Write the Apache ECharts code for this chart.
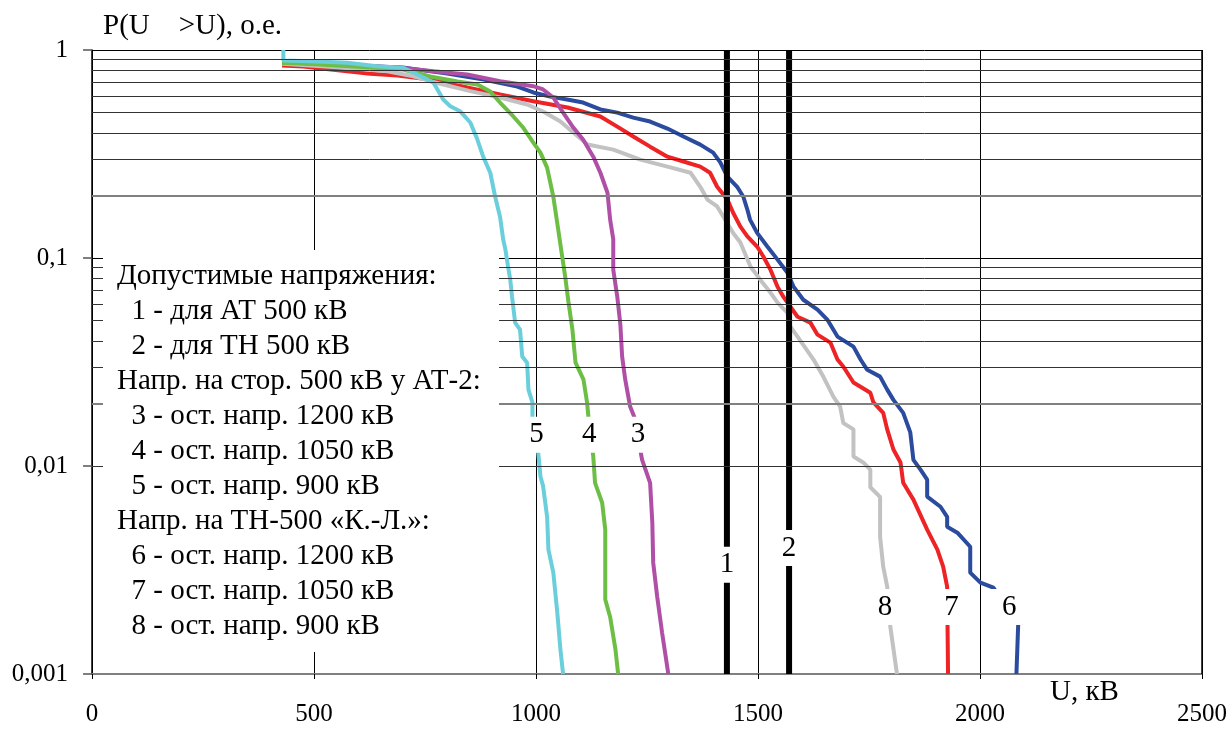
<!DOCTYPE html>
<html><head><meta charset="utf-8">
<script src="https://cdn.jsdelivr.net/npm/echarts/dist/echarts.min.js"></script>
<style>html,body{margin:0;padding:0;background:#fff}#c{width:1231px;height:729px}</style>
</head><body><div id="c"></div>
<script>
const FONT = 'Liberation Serif';
// axis ticks
const xMin = 0, xMax = 2500, xStep = 500;
const yMin = 0.001, yMax = 1;
const yTickLabel = {'1':'1','0.1':'0,1','0.01':'0,01','0.001':'0,001'};
const minorGridDark = [0.9,0.8,0.7,0.6,0.5,0.4,0.3,0.09,0.08,0.07,0.06,0.05,0.04,0.03,0.009,0.008,0.007,0.006,0.005,0.004,0.003];
const minorGridGray = [0.2,0.02,0.002];
// permissible voltages (lines 1,2)
const limitU = [1430, 1570];
// curve 3 (purple)
const c3U = [428,559,695,769,845,919,994,1016,1039,1061,1084,1106,1129,1145,1161,1167,1174,1174,1183,1190,1194,1201,1212,1221,1239,1257,1262,1264,1273,1284,1298];
const c3P = [0.871,0.851,0.821,0.791,0.762,0.708,0.67,0.646,0.591,0.5,0.424,0.371,0.307,0.257,0.206,0.153,0.123,0.0879,0.0653,0.0479,0.0336,0.026,0.0193,0.0173,0.0107,0.0083,0.00533,0.00343,0.00235,0.00158,0.001];
// curve 4 (green)
const c4U = [428,476,589,701,762,823,868,897,919,949,971,994,1010,1025,1039,1050,1059,1066,1073,1082,1089,1107,1115,1118,1129,1133,1149,1156,1156,1167,1179,1185];
const c4P = [0.866,0.861,0.833,0.806,0.746,0.705,0.683,0.631,0.559,0.479,0.424,0.359,0.321,0.272,0.197,0.137,0.1016,0.0805,0.0617,0.0453,0.0314,0.026,0.0202,0.0173,0.0111,0.0083,0.00666,0.00494,0.00228,0.00188,0.00131,0.001];
// curve 5 (cyan)
const c5U = [431,431,492,575,642,701,733,769,791,807,829,852,868,881,897,908,919,926,931,937,942,946,953,964,969,980,983,992,992,1005,1010,1016,1025,1028,1039,1048,1055,1061];
const c5P = [1,0.89,0.883,0.868,0.836,0.821,0.762,0.698,0.578,0.537,0.508,0.448,0.371,0.307,0.257,0.197,0.158,0.123,0.11,0.091,0.0787,0.0653,0.0489,0.0453,0.0336,0.0314,0.0233,0.0202,0.0173,0.0116,0.0089,0.008,0.0057,0.00396,0.00307,0.00197,0.00131,0.001];
// curve 6 (blue)
const c6U = [428,700,800,882,958,994,1032,1070,1106,1145,1183,1219,1257,1296,1332,1370,1399,1415,1431,1453,1467,1476,1482,1498,1521,1544,1566,1580,1602,1634,1656,1679,1715,1731,1746,1775,1791,1805,1827,1843,1850,1866,1881,1881,1911,1926,1926,1949,1978,1978,2001,2030,2086,2084,2082];
const c6P = [0.866,0.824,0.77,0.721,0.667,0.625,0.597,0.578,0.559,0.518,0.5,0.473,0.453,0.419,0.384,0.351,0.321,0.288,0.246,0.22,0.197,0.171,0.153,0.132,0.1135,0.0982,0.0851,0.0728,0.063,0.0565,0.0506,0.0419,0.0375,0.0325,0.029,0.0269,0.0233,0.0208,0.018,0.0145,0.0107,0.0096,0.0086,0.00713,0.00637,0.0057,0.0051,0.00478,0.00409,0.00307,0.00275,0.0026,0.00173,0.00131,0.001];
// curve 7 (red)
const c7U = [428,476,559,627,688,762,845,919,994,1071,1145,1183,1219,1257,1296,1332,1370,1392,1408,1431,1444,1460,1476,1498,1512,1528,1544,1557,1573,1589,1618,1634,1663,1679,1692,1715,1753,1760,1782,1791,1805,1821,1827,1850,1881,1904,1917,1926,1928];
const c7P = [0.842,0.833,0.797,0.768,0.754,0.721,0.66,0.611,0.567,0.529,0.479,0.428,0.384,0.343,0.307,0.291,0.275,0.257,0.22,0.191,0.165,0.142,0.127,0.1135,0.1016,0.0879,0.0728,0.0652,0.0583,0.0522,0.0489,0.0428,0.0392,0.0325,0.0301,0.0252,0.0225,0.0202,0.018,0.015,0.012,0.0104,0.0083,0.00689,0.00494,0.00396,0.00328,0.00263,0.001];
// curve 8 (gray)
const c8U = [428,552,665,724,762,791,852,919,980,1016,1055,1084,1116,1174,1235,1296,1348,1370,1386,1408,1422,1444,1460,1483,1505,1528,1544,1566,1573,1589,1625,1647,1670,1685,1692,1715,1715,1737,1753,1753,1775,1775,1782,1791,1798,1813];
const c8P = [0.859,0.826,0.791,0.748,0.708,0.683,0.634,0.591,0.547,0.506,0.453,0.401,0.351,0.332,0.297,0.275,0.257,0.22,0.191,0.177,0.158,0.132,0.119,0.091,0.0787,0.0682,0.061,0.0546,0.0468,0.0419,0.0325,0.0269,0.0215,0.0193,0.0161,0.015,0.0111,0.0104,0.0096,0.0079,0.0071,0.00457,0.00328,0.00263,0.00169,0.001];
// curve number labels
const labelNames = ['1','2','3','4','5','6','7','8'];
const labelU = [1430,1570,1230,1120,1001,2066,1936,1786];
const labelP = [0.00335,0.00403,0.01415,0.01415,0.01415,0.0021,0.0021,0.0021];
// legend text
const legendLines = [
  'Допустимые напряжения:',
  '  1 - для АТ 500 кВ',
  '  2 - для ТН 500 кВ',
  'Напр. на стор. 500 кВ у АТ-2:',
  '  3 - ост. напр. 1200 кВ',
  '  4 - ост. напр. 1050 кВ',
  '  5 - ост. напр. 900 кВ',
  'Напр. на ТН-500 «К.-Л.»:',
  '  6 - ост. напр. 1200 кВ',
  '  7 - ост. напр. 1050 кВ',
  '  8 - ост. напр. 900 кВ'
];
const yTitle = 'P(U    >U), о.е.';
const xTitle = 'U, кВ';

const zip = (u, p) => u.map((v, i) => [v, p[i]]);
const curve = (name, u, p, color, z) => ({
  type: 'line', name, data: zip(u, p), showSymbol: false, symbol: 'none',
  lineStyle: { color, width: 4 }, z, silent: true
});
const gridLines = [].concat(
  minorGridDark.map(v => ({ yAxis: v, lineStyle: { color: '#333', width: 1, type: 'solid' } })),
  minorGridGray.map(v => ({ yAxis: v, lineStyle: { color: '#808080', width: 2, type: 'solid' } }))
);

const TXT = 29;
const chart = echarts.init(document.getElementById('c'), null, { renderer: 'canvas' });
const graphic = [
  { type: 'rect', shape: { x: 103, y: 250, width: 396, height: 402 }, style: { fill: '#fff' }, z: 100 },
  { type: 'text', x: 103, y: 26, z: 101, style: { text: yTitle, fontSize: TXT, fontFamily: FONT, fill: '#000', verticalAlign: 'middle' } },
  { type: 'text', x: 1050, y: 692, z: 101, style: { text: xTitle, fontSize: TXT, fontFamily: FONT, fill: '#000', verticalAlign: 'middle' } }
];
legendLines.forEach((t, i) => {
  graphic.push({ type: 'text', x: 117, y: 276 + i * 35, z: 101,
    style: { text: t, fontSize: TXT, fontFamily: FONT, fill: '#000', verticalAlign: 'middle' } });
});

chart.setOption({
  animation: false,
  textStyle: { fontFamily: FONT },
  grid: { left: 92, right: 29, top: 50, bottom: 55, containLabel: false },
  xAxis: {
    type: 'value', min: xMin, max: xMax, interval: xStep,
    axisLine: { show: true, lineStyle: { color: '#808080', width: 2 } },
    axisTick: { show: true, length: 5, lineStyle: { color: '#000', width: 1 } },
    axisLabel: { fontSize: 25, color: '#000', margin: 28, fontFamily: FONT, formatter: v => String(v) },
    splitLine: { show: true, lineStyle: { color: '#000', width: 1 } }
  },
  yAxis: {
    type: 'log', logBase: 10, min: yMin, max: yMax,
    axisLine: { show: true, lineStyle: { color: '#000', width: 1.5 } },
    axisTick: { show: true, length: 9, lineStyle: { color: '#555', width: 1.5 } },
    axisLabel: { fontSize: 25, color: '#000', margin: 24, fontFamily: FONT,
      formatter: v => yTickLabel[String(Number(Number(v).toPrecision(2)))] || '' },
    splitLine: { show: true, lineStyle: { color: '#000', width: 1 } },
    minorTick: { show: false }, minorSplitLine: { show: false }
  },
  graphic,
  series: [
    { type: 'line', data: [], silent: true, z: 1, symbol: 'none',
      markLine: { silent: true, symbol: ['none', 'none'], label: { show: false }, animation: false, data: gridLines } },
    { type: 'line', name: 'right', data: [[xMax, yMin], [xMax, yMax]], symbol: 'none', z: 1, lineStyle: { color: '#000', width: 1.5 }, silent: true },
    curve('6', c6U, c6P, '#2B4C9E', 3),
    curve('7', c7U, c7P, '#ED2326', 3),
    curve('8', c8U, c8P, '#C2C2C2', 3),
    curve('3', c3U, c3P, '#B04FA6', 3),
    curve('4', c4U, c4P, '#6DBE45', 3),
    curve('5', c5U, c5P, '#6ACFDB', 3),
    { type: 'line', name: '1', data: [[limitU[0], yMin], [limitU[0], yMax]], symbol: 'none', z: 4, lineStyle: { color: '#000', width: 6 }, silent: true },
    { type: 'line', name: '2', data: [[limitU[1], yMin], [limitU[1], yMax]], symbol: 'none', z: 4, lineStyle: { color: '#000', width: 6 }, silent: true },
    { type: 'scatter', name: 'labels', z: 20, symbol: 'rect', symbolSize: [42, 36], silent: true,
      itemStyle: { color: '#fff', opacity: 1 },
      data: labelNames.map((n, i) => ({ name: n, value: [labelU[i], labelP[i]] })),
      label: { show: true, position: 'inside', formatter: p => p.name,
        fontSize: TXT, fontFamily: FONT, color: '#000' } }
  ]
});
</script></body></html>
